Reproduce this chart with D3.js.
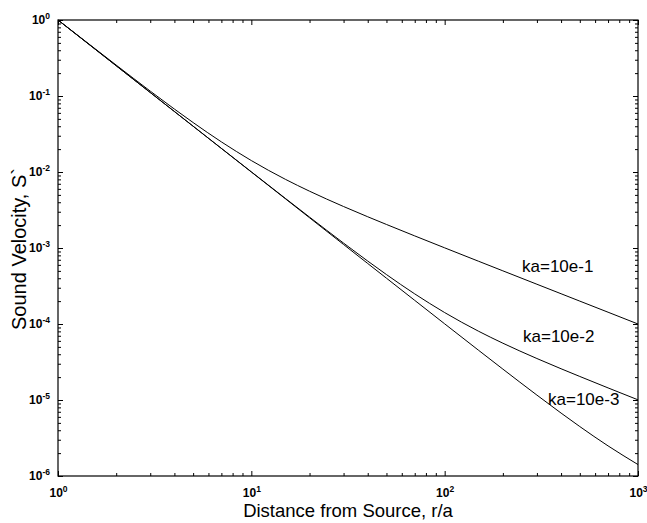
<!DOCTYPE html>
<html>
<head>
<meta charset="utf-8">
<script src="https://cdnjs.cloudflare.com/ajax/libs/d3/7.8.5/d3.min.js"></script>
<style>
    html, body { margin: 0; padding: 0; background: #fff; }
    svg { display: block; font-family: "Liberation Sans", Arial, sans-serif; }
</style>
</head>
<body>
<div id="chart"></div>
<script>
// Distance from source r/a (sample points)
const distance = [1, 1.5, 2, 3, 4, 5, 7, 10, 15, 20, 30, 40, 50, 70, 100, 150, 200, 300, 400, 500, 700, 1000];

// Sound velocity S` for each ka
const velKa1 = [1.0, 0.4494, 0.2550, 0.1160, 0.06731, 0.04472, 0.02491, 0.01414, 0.008012, 0.005590, 0.003514, 0.002577,
    0.002040, 0.001443, 0.001005, 6.681e-4, 5.006e-4, 3.335e-4, 2.501e-4, 2.000e-4, 1.429e-4, 1.000e-4];
const velKa2 = [1.0, 0.4445, 0.2500, 0.1112, 0.06255, 0.04005, 0.02046, 0.01005, 0.004494, 0.002550, 0.001160, 6.731e-4,
    4.472e-4, 2.491e-4, 1.414e-4, 8.012e-5, 5.590e-5, 3.514e-5, 2.577e-5, 2.040e-5, 1.443e-5, 1.005e-5];
const velKa3 = [1.0, 0.4444, 0.2500, 0.1111, 0.06250, 0.04000, 0.02041, 0.01000, 0.004445, 0.002500, 0.001112, 6.255e-4,
    4.005e-4, 2.046e-4, 1.005e-4, 4.494e-5, 2.550e-5, 1.160e-5, 6.731e-6, 4.472e-6, 2.491e-6, 1.414e-6];

const seriesNames = ["ka=10e-1", "ka=10e-2", "ka=10e-3"];

// Decade ticks
const xTicks = [1, 10, 100, 1000];
const yTicks = [1, 1e-1, 1e-2, 1e-3, 1e-4, 1e-5, 1e-6];

const width = 647, height = 523;
const margin = { top: 20, right: 9, bottom: 47, left: 58 };
const innerW = width - margin.left - margin.right,
    innerH = height - margin.top - margin.bottom;

const svg = d3.select("#chart")
    .append("svg")
    .attr("width", width)
    .attr("height", height);

const chart = svg.append("g")
    .attr("transform", `translate(${margin.left},${margin.top})`);

const x = d3.scaleLog().domain([1, 1000]).range([0, innerW]);
const y = d3.scaleLog().domain([1e-6, 1]).range([innerH, 0]);

// minor ticks 2..9 in every decade
const minorOf = (lo, hi) => {
    const out = [];
    for (let p = lo; p < hi; p++)
        for (let m = 2; m <= 9; m++) out.push(m * Math.pow(10, p));
    return out;
};
const xMinor = minorOf(0, 3);
const yMinor = minorOf(-6, 0);

const expOf = v => Math.round(Math.log10(v));

function supLabels(sel) {
    sel.selectAll(".tick text").each(function (d) {
        const t = d3.select(this).text("");
        t.append("tspan").text("10");
        t.append("tspan").attr("dy", -5).style("font-size", "8.5px").text(expOf(d));
    });
}

// bottom
chart.append("g")
    .attr("transform", `translate(0,${innerH})`)
    .call(d3.axisBottom(x).tickValues(xTicks).tickSize(-5).tickPadding(12))
    .call(g => g.select(".domain").remove())
    .call(g => g.selectAll("text").style("font-size", "12px").style("font-weight", "bold").attr("fill", "#000"))
    .call(supLabels);
chart.append("g")
    .attr("transform", `translate(0,${innerH})`)
    .call(d3.axisBottom(x).tickValues(xMinor).tickFormat("").tickSize(-3))
    .call(g => g.select(".domain").remove());

// top
chart.append("g")
    .call(d3.axisTop(x).tickValues(xTicks).tickFormat("").tickSize(-5))
    .call(g => g.select(".domain").remove());
chart.append("g")
    .call(d3.axisTop(x).tickValues(xMinor).tickFormat("").tickSize(-3))
    .call(g => g.select(".domain").remove());

// left
chart.append("g")
    .call(d3.axisLeft(y).tickValues(yTicks).tickSize(-5).tickPadding(8))
    .call(g => g.select(".domain").remove())
    .call(g => g.selectAll("text").style("font-size", "12px").style("font-weight", "bold").attr("fill", "#000"))
    .call(supLabels);
chart.append("g")
    .call(d3.axisLeft(y).tickValues(yMinor).tickFormat("").tickSize(-3))
    .call(g => g.select(".domain").remove());

// right
chart.append("g")
    .attr("transform", `translate(${innerW},0)`)
    .call(d3.axisRight(y).tickValues(yTicks).tickFormat("").tickSize(-5))
    .call(g => g.select(".domain").remove());
chart.append("g")
    .attr("transform", `translate(${innerW},0)`)
    .call(d3.axisRight(y).tickValues(yMinor).tickFormat("").tickSize(-3))
    .call(g => g.select(".domain").remove());

chart.selectAll(".tick line").attr("stroke", "#000");

// frame
chart.append("rect")
    .attr("width", innerW)
    .attr("height", innerH)
    .attr("fill", "none")
    .attr("stroke", "#000")
    .attr("stroke-width", 1.2);

// curves
const line = d3.line()
    .x((d, i) => x(distance[i]))
    .y(d => y(d))
    .curve(d3.curveMonotoneX);

[velKa1, velKa2, velKa3].forEach(vals => {
    chart.append("path")
        .attr("d", line(vals))
        .attr("fill", "none")
        .attr("stroke", "#000")
        .attr("stroke-width", 1);
});

// curve labels
const labelPos = [[464, 252], [465, 322], [490, 385]];
seriesNames.forEach((name, i) => {
    chart.append("text")
        .attr("x", labelPos[i][0])
        .attr("y", labelPos[i][1])
        .style("font-size", "17px")
        .text(name);
});

// axis titles
svg.append("text")
    .attr("x", margin.left + innerW / 2)
    .attr("y", 517)
    .attr("text-anchor", "middle")
    .style("font-size", "18.5px")
    .text("Distance from Source, r/a");

svg.append("text")
    .attr("transform", `translate(26,249) rotate(-90)`)
    .attr("text-anchor", "middle")
    .style("font-size", "20px")
    .text("Sound Velocity, S`");
</script>
</body>
</html>
